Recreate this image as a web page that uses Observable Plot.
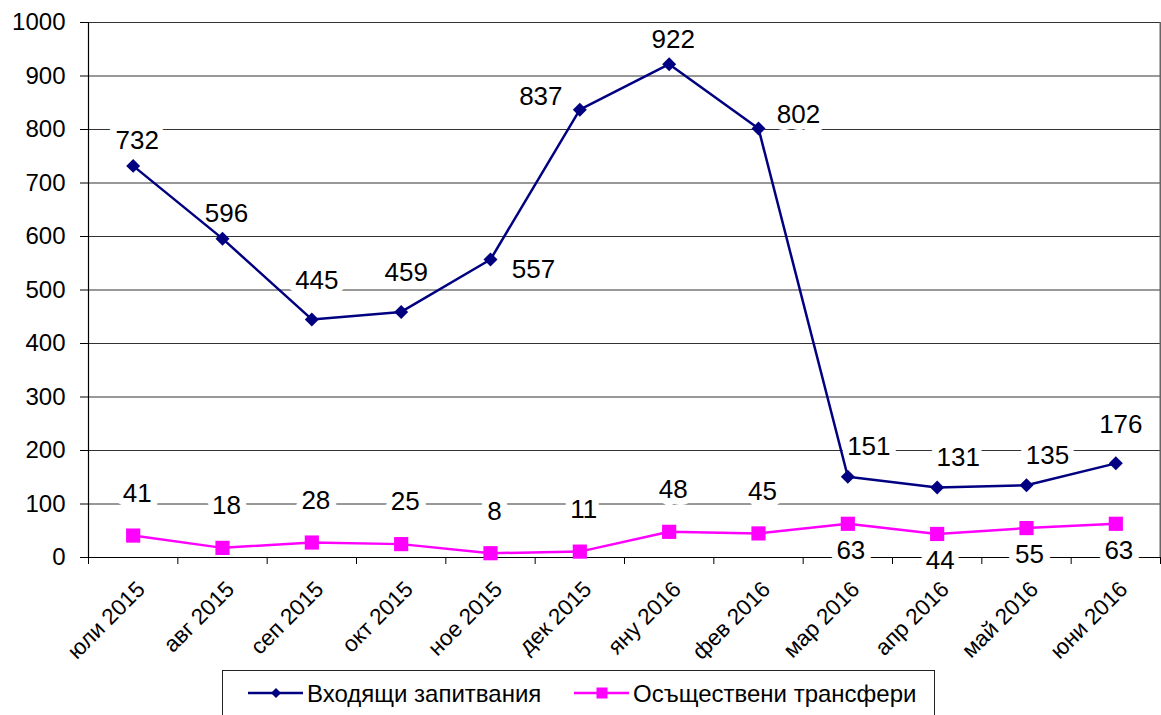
<!DOCTYPE html>
<html>
<head>
<meta charset="utf-8">
<script src="https://cdn.jsdelivr.net/npm/d3@7"></script>
<script src="https://cdn.jsdelivr.net/npm/@observablehq/plot@0.6"></script>
<style>
  html, body { margin: 0; padding: 0; background: #fff; overflow: hidden; }
  #wrap { position: relative; width: 1161px; height: 715px; font-family: "Liberation Sans", Arial, sans-serif; }
  #legend { position: absolute; left: 222px; top: 670px; width: 711px; height: 60px; border: 1px solid #222; background: #fff; }
</style>
</head>
<body>
<div id="wrap"></div>
<script>
// ---- data ----
const months = ["юли 2015","авг 2015","сеп 2015","окт 2015","ное 2015","дек 2015","яну 2016","фев 2016","мар 2016","апр 2016","май 2016","юни 2016"];
const incoming = [732, 596, 445, 459, 557, 837, 922, 802, 151, 131, 135, 176];
const transfers = [41, 18, 28, 25, 8, 11, 48, 45, 63, 44, 55, 63];
const incomingLabelPos = ["top","top","hightop","hightop","bottomright","left","top","right","topright","topright","topright","hightop"];
const transferLabelPos = ["top","top","top","top","top","top","top","top","bottom","bottom","bottom","bottom"];
const yTicks = [0,100,200,300,400,500,600,700,800,900,1000];
const seriesNames = ["Входящи запитвания", "Осъществени трансфери"];

// ---- styles ----
const blue = "#000080", pink = "#FF00FF";
const offsets = {
  blue: { top: [4, -25], hightop: [5, -39], topright: [21, -30], left: [-39, -13], right: [40, -14], bottomright: [43, 10] },
  pink: { top: [4, -42], bottom: [3, 27] }
};

const inc = incoming.map((v, i) => ({ i, v, pos: incomingLabelPos[i] }));
const tr = transfers.map((v, i) => ({ i, v, pos: transferLabelPos[i] }));
const boundaries = d3.range(months.length + 1).map(k => k - 0.5);

function labelMarks(data, key) {
  return Object.entries(offsets[key]).map(([pos, [dx, dy]]) =>
    Plot.text(data.filter(d => d.pos === pos), {
      x: "i", y: "v", text: d => String(d.v), dx, dy,
      fontSize: 26, fill: "#000", stroke: "#fff", strokeWidth: 14, strokeLinejoin: "round"
    }));
}

const chart = Plot.plot({
  width: 1161,
  height: 668,
  marginLeft: 88,
  marginRight: 1,
  marginTop: 22,
  marginBottom: 111,
  style: { fontFamily: "'Liberation Sans', Arial, sans-serif", fontSize: "24px", background: "#fff", color: "#000" },
  x: { type: "linear", domain: [-0.5, months.length - 0.5] },
  y: { domain: [0, 1000] },
  marks: [
    Plot.gridY(yTicks, { stroke: "#333", strokeOpacity: 1, strokeWidth: 1 }),
    Plot.ruleX([months.length - 0.5], { y1: 0, y2: 1000, stroke: "#666", strokeWidth: 2 }),
    Plot.axisY(yTicks, { tickSize: 8, tickPadding: 15, fontSize: 24, tickFormat: d => String(d), stroke: "#000", label: null }),
    Plot.axisX(boundaries, { tickSize: 7, tickFormat: () => "", stroke: "#000", label: null }),
    Plot.axisX(d3.range(months.length), { tickSize: 0, tickPadding: 28, tickRotate: -45, dx: 8, fontSize: 22.5, tickFormat: i => months[i], label: null }),
    Plot.ruleX([-0.5], { y1: 0, y2: 1000, stroke: "#000", strokeWidth: 1.2 }),
    Plot.ruleY([0], { stroke: "#000", strokeWidth: 1.2 }),
    ...labelMarks(inc, "blue"),
    ...labelMarks(tr, "pink"),
    Plot.line(inc, { x: "i", y: "v", stroke: blue, strokeWidth: 2.5 }),
    Plot.dot(inc, { x: "i", y: "v", symbol: "diamond2", r: 6.3, fill: blue, stroke: null }),
    Plot.line(tr, { x: "i", y: "v", stroke: pink, strokeWidth: 2.5 }),
    Plot.dot(tr, { x: "i", y: "v", symbol: "square", r: 8, fill: pink, stroke: null })
  ]
});

const wrap = document.getElementById("wrap");
wrap.appendChild(chart);

// ---- legend ----
const legend = document.createElement("div");
legend.id = "legend";
const ns = "http://www.w3.org/2000/svg";
const lsvg = document.createElementNS(ns, "svg");
lsvg.setAttribute("width", 711);
lsvg.setAttribute("height", 60);
const items = [
  { name: seriesNames[0], color: blue, x0: 25, sym: "diamond" },
  { name: seriesNames[1], color: pink, x0: 351, sym: "square" }
];
for (const it of items) {
  const ln = document.createElementNS(ns, "line");
  ln.setAttribute("x1", it.x0); ln.setAttribute("x2", it.x0 + 55);
  ln.setAttribute("y1", 22); ln.setAttribute("y2", 22);
  ln.setAttribute("stroke", it.color); ln.setAttribute("stroke-width", 2.5);
  lsvg.appendChild(ln);
  const cx = it.x0 + 28, cy = 22;
  const m = document.createElementNS(ns, "path");
  if (it.sym === "diamond") {
    m.setAttribute("d", `M${cx},${cy-5}L${cx+5},${cy}L${cx},${cy+5}L${cx-5},${cy}Z`);
  } else {
    m.setAttribute("d", `M${cx-5.5},${cy-5.5}h11v11h-11Z`);
  }
  m.setAttribute("fill", it.color);
  lsvg.appendChild(m);
  const t = document.createElementNS(ns, "text");
  t.setAttribute("x", it.x0 + 59);
  t.setAttribute("y", 31);
  t.setAttribute("font-family", "'Liberation Sans', Arial, sans-serif");
  t.setAttribute("font-size", 24);
  t.setAttribute("fill", "#000");
  t.textContent = it.name;
  lsvg.appendChild(t);
}
legend.appendChild(lsvg);
wrap.appendChild(legend);
</script>
</body>
</html>
